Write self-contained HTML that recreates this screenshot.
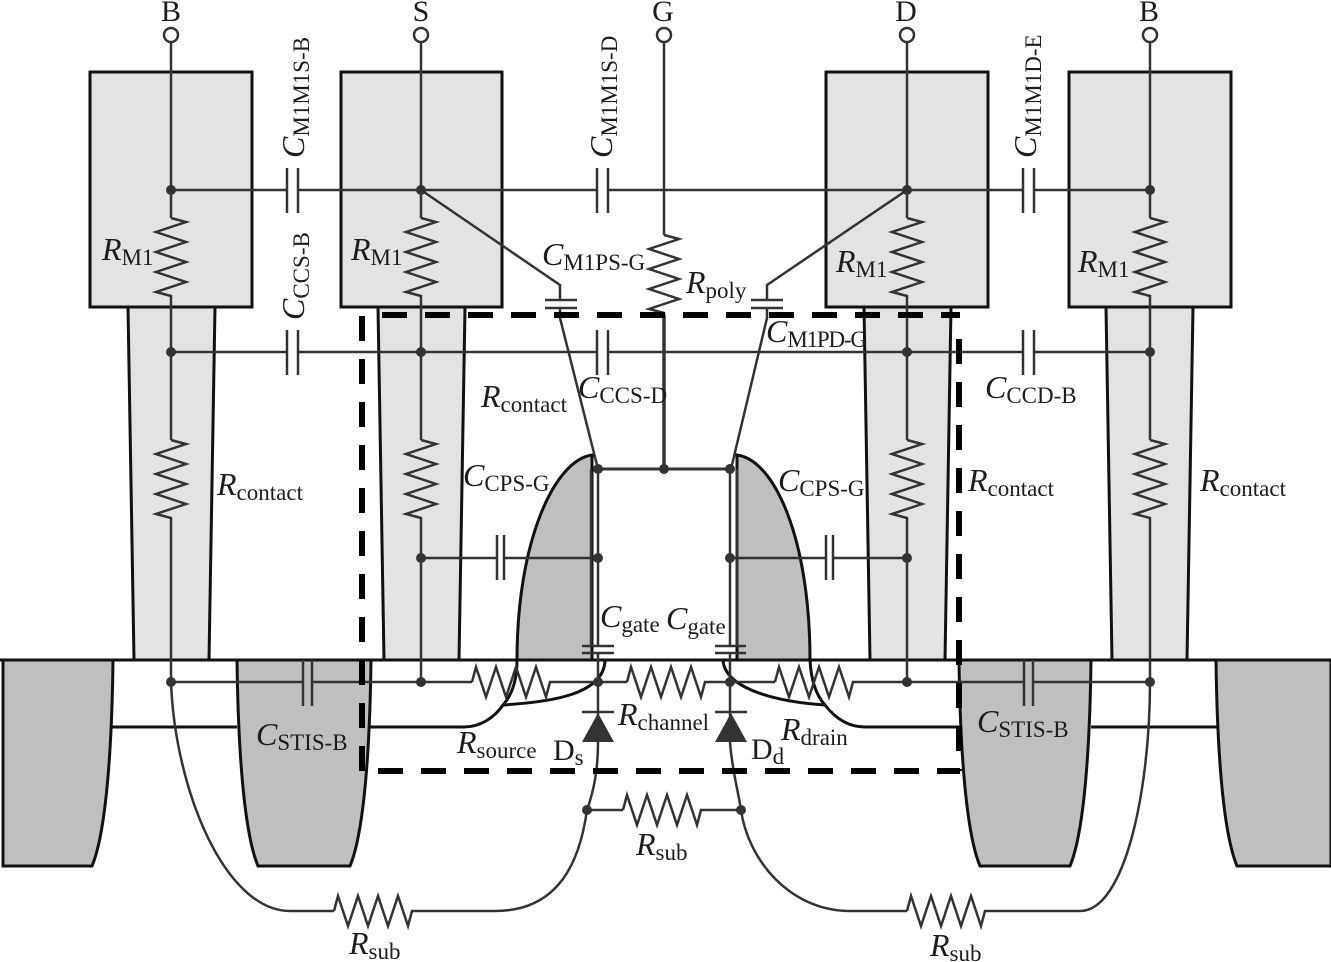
<!DOCTYPE html>
<html><head><meta charset="utf-8"><style>
html,body{margin:0;padding:0;background:#fff}
svg{display:block}
text{font-family:"Liberation Serif",serif;fill:#1c1c1c}
.c{font-style:italic;font-size:32px}
.s{font-size:23px}
.w{fill:none;stroke:#333;stroke-width:2.5}
.k{stroke:#111;stroke-width:3;fill:none}
</style></head><body>
<svg width="1331" height="962" viewBox="0 0 1331 962" xmlns="http://www.w3.org/2000/svg">
<defs>
<path id="r" d="M0 0L4 -15L14 15L24 -15L34 15L44 -15L54 15L64 -15L74 15L78 0L80 0" fill="none" stroke="#333" stroke-width="2.5"/>
<circle id="n" r="5" fill="#333"/>
</defs>
<rect width="1331" height="962" fill="#fff"/>

<!-- contacts -->
<g fill="#e3e3e3" stroke="#111" stroke-width="3">
<path d="M128 307L134 660H209L215 307Z"/>
<path d="M378 307L384 660H459L465 307Z"/>
<path d="M864 307L870 660H945L951 307Z"/>
<path d="M1106 307L1112 660H1187L1193 307Z"/>
<rect x="90" y="72" width="162" height="235"/>
<rect x="341" y="72" width="161" height="235"/>
<rect x="826" y="72" width="162" height="235"/>
<rect x="1069" y="72" width="162" height="235"/>
</g>

<!-- spacers -->
<g fill="#bfbfbf" stroke="#111" stroke-width="3">
<path d="M592 660V455C555 460 517 540 517 660Z"/>
<path d="M737 660V455C775 460 810 540 810 660Z"/>
<path d="M3 660H113C112 740 107 830 92 866H3Z"/>
<path d="M237 660C238 740 243 830 258 866H350C365 830 370 740 371 660Z"/>
<path d="M959 660C960 740 965 830 980 866H1070C1085 830 1090 740 1091 660Z"/>
<path d="M1216 660C1217 740 1222 830 1237 866H1331V660Z" />
</g>
<g class="k">
<path d="M0 660H1331"/>
<path d="M112 727H237"/>
<path d="M370 727H464C480 727 494 718 503 705C550 702 603 695 605 661"/>
<path d="M517 660C517 680 512 695 503 705"/>
<path d="M1218 727H1091"/>
<path d="M960 727H865C848 727 835 718 825 705C780 702 725 690 723 660"/>
<path d="M810 660C811 680 816 695 825 705"/>
</g>

<!-- wires -->
<g class="w">
<path d="M171 41V218M171 298V440M171 520V682C175 790 225 911 290 911H334"/>
<path d="M421 41V218M421 298V440M421 520V682"/>
<path d="M907 41V218M907 298V440M907 520V682"/>
<path d="M1150 41V218M1150 298V440M1150 520V682"/>
<path d="M664 41V235"/>
<path d="M171 190H287M298 190H597M608 190H1023M1034 190H1150"/>
<path d="M171 352H287M298 352H597M608 352H1023M1034 352H1150"/>
<path d="M287 168V213M298 168V213M597 168V213M608 168V213M1023 168V213M1034 168V213"/>
<path d="M287 330V375M298 330V375M597 330V375M608 330V375M1023 330V375M1034 330V375"/>
<path d="M421 190L560 285V300M545 300H577M545 308H577M560 308V318L598 469"/>
<path d="M907 190L767 285V300M751 300H783M751 308H783M767 308V318L731 469"/>
<path d="M421 558H497M504 558H598M497 535V580M504 535V580"/>
<path d="M730 558H826M833 558H907M826 535V580M833 535V580"/>
<path d="M171 682H303M312 682H472M303 660V706M312 660V706"/>
<path d="M855 682H1024M1033 682H1150M1024 660V706M1033 660V706"/>
<path d="M552 682H627M707 682H775"/>
<path d="M598 469H730" stroke-width="3"/>
<path d="M664 315V469" stroke-width="3.5"/>
<path d="M591 469V646M598 469V646M598 653V682M730 469V646M730 653V682M737 469V646"/>
<path d="M582 646H614M582 653H614M715 646H746M715 653H746"/>
<path d="M598 682V742C598 770 594 790 587 810C580 860 560 911 495 911H414"/>
<path d="M730 682V742C732 770 738 790 741 810C748 860 790 911 850 911H907"/>
<path d="M987 911H1080C1125 911 1150 790 1150 682"/>
<path d="M587 810H623M703 810H741"/>
<path d="M582 712H614M715 712H747"/>
</g>
<path d="M598 713L582 742H614Z M731 713L715 742H747Z" fill="#333"/>

<!-- resistors -->
<use href="#r" transform="translate(171,218) rotate(90)"/>
<use href="#r" transform="translate(421,218) rotate(90)"/>
<use href="#r" transform="translate(907,218) rotate(90)"/>
<use href="#r" transform="translate(1150,218) rotate(90)"/>
<use href="#r" transform="translate(664,235) rotate(90)"/>
<use href="#r" transform="translate(171,440) rotate(90)"/>
<use href="#r" transform="translate(421,440) rotate(90)"/>
<use href="#r" transform="translate(907,440) rotate(90)"/>
<use href="#r" transform="translate(1150,440) rotate(90)"/>
<use href="#r" x="472" y="682"/>
<use href="#r" x="627" y="682"/>
<use href="#r" x="775" y="682"/>
<use href="#r" x="623" y="810"/>
<use href="#r" x="334" y="911"/>
<use href="#r" x="907" y="911"/>

<!-- dashed box -->
<g stroke="#000" stroke-width="6" fill="none" stroke-dasharray="25 18">
<path d="M382 315H960"/>
<path d="M362 316V771"/>
<path d="M378 771H960"/>
<path d="M959 339V771"/>
</g>

<!-- nodes -->
<use href="#n" x="171" y="190"/><use href="#n" x="421" y="190"/><use href="#n" x="907" y="190"/><use href="#n" x="1150" y="190"/>
<use href="#n" x="171" y="352"/><use href="#n" x="421" y="352"/><use href="#n" x="907" y="352"/><use href="#n" x="1150" y="352"/>
<use href="#n" x="421" y="558"/><use href="#n" x="598" y="558"/><use href="#n" x="730" y="558"/><use href="#n" x="907" y="558"/>
<use href="#n" x="598" y="469"/><use href="#n" x="664" y="469"/><use href="#n" x="730" y="469"/>
<use href="#n" x="171" y="682"/><use href="#n" x="421" y="682"/><use href="#n" x="598" y="682"/><use href="#n" x="730" y="682"/><use href="#n" x="907" y="682"/><use href="#n" x="1150" y="682"/>
<use href="#n" x="587" y="810"/><use href="#n" x="741" y="810"/>

<!-- terminals -->
<g fill="#fff" stroke="#333" stroke-width="2.5">
<circle cx="171" cy="35" r="7"/><circle cx="421" cy="35" r="7"/><circle cx="664" cy="35" r="7"/><circle cx="907" cy="35" r="7"/><circle cx="1150" cy="35" r="7"/>
</g>
<g text-anchor="middle">
<text x="171" y="21" font-size="30">B</text><text x="421" y="21" font-size="30">S</text><text x="663" y="21" font-size="30">G</text><text x="906" y="21" font-size="30">D</text><text x="1149" y="21" font-size="30">B</text>
</g>

<!-- rotated labels -->
<text transform="translate(304,158) rotate(-90)"><tspan class="c">C</tspan><tspan class="s" dy="5">M1M1S-B</tspan></text>
<text transform="translate(304,320) rotate(-90)"><tspan class="c">C</tspan><tspan class="s" dy="5">CCS-B</tspan></text>
<text transform="translate(612,158) rotate(-90)"><tspan class="c">C</tspan><tspan class="s" dy="5">M1M1S-D</tspan></text>
<text transform="translate(1036,158) rotate(-90)"><tspan class="c">C</tspan><tspan class="s" dy="5">M1M1D-E</tspan></text>

<!-- horizontal labels -->
<text x="102" y="260"><tspan class="c">R</tspan><tspan class="s" dy="5">M1</tspan></text>
<text x="351" y="260"><tspan class="c">R</tspan><tspan class="s" dy="5">M1</tspan></text>
<text x="836" y="272"><tspan class="c">R</tspan><tspan class="s" dy="5">M1</tspan></text>
<text x="1078" y="272"><tspan class="c">R</tspan><tspan class="s" dy="5">M1</tspan></text>
<text x="542" y="265"><tspan class="c">C</tspan><tspan class="s" dy="5">M1PS-G</tspan></text>
<text x="686" y="293"><tspan class="c">R</tspan><tspan class="s" dy="5">poly</tspan></text>
<text x="766" y="342"><tspan class="c">C</tspan><tspan class="s" dy="5" letter-spacing="-1.2">M1PD-G</tspan></text>
<text x="217" y="495"><tspan class="c">R</tspan><tspan class="s" dy="5">contact</tspan></text>
<text x="481" y="407"><tspan class="c">R</tspan><tspan class="s" dy="5">contact</tspan></text>
<text x="968" y="491"><tspan class="c">R</tspan><tspan class="s" dy="5">contact</tspan></text>
<text x="1200" y="491"><tspan class="c">R</tspan><tspan class="s" dy="5">contact</tspan></text>
<text x="578" y="398"><tspan class="c">C</tspan><tspan class="s" dy="5">CCS-D</tspan></text>
<text x="985" y="398"><tspan class="c">C</tspan><tspan class="s" dy="5">CCD-B</tspan></text>
<text x="463" y="486"><tspan class="c">C</tspan><tspan class="s" dy="5">CPS-G</tspan></text>
<text x="778" y="491"><tspan class="c">C</tspan><tspan class="s" dy="5">CPS-G</tspan></text>
<text x="600" y="627"><tspan class="c">C</tspan><tspan class="s" dy="5">gate</tspan></text>
<text x="666" y="629"><tspan class="c">C</tspan><tspan class="s" dy="5">gate</tspan></text>
<text x="618" y="725"><tspan class="c">R</tspan><tspan class="s" dy="5">channel</tspan></text>
<text x="781" y="740"><tspan class="c">R</tspan><tspan class="s" dy="5">drain</tspan></text>
<text x="457" y="753"><tspan class="c">R</tspan><tspan class="s" dy="5">source</tspan></text>
<text x="553" y="760"><tspan font-size="30">D</tspan><tspan class="s" dy="5">s</tspan></text>
<text x="751" y="759"><tspan font-size="30">D</tspan><tspan class="s" dy="5">d</tspan></text>
<text x="256" y="745"><tspan class="c">C</tspan><tspan class="s" dy="5">STIS-B</tspan></text>
<text x="977" y="732"><tspan class="c">C</tspan><tspan class="s" dy="5">STIS-B</tspan></text>
<text x="636" y="855"><tspan class="c">R</tspan><tspan class="s" dy="5">sub</tspan></text>
<text x="349" y="954"><tspan class="c">R</tspan><tspan class="s" dy="5">sub</tspan></text>
<text x="930" y="956"><tspan class="c">R</tspan><tspan class="s" dy="5">sub</tspan></text>
</svg>
</body></html>
